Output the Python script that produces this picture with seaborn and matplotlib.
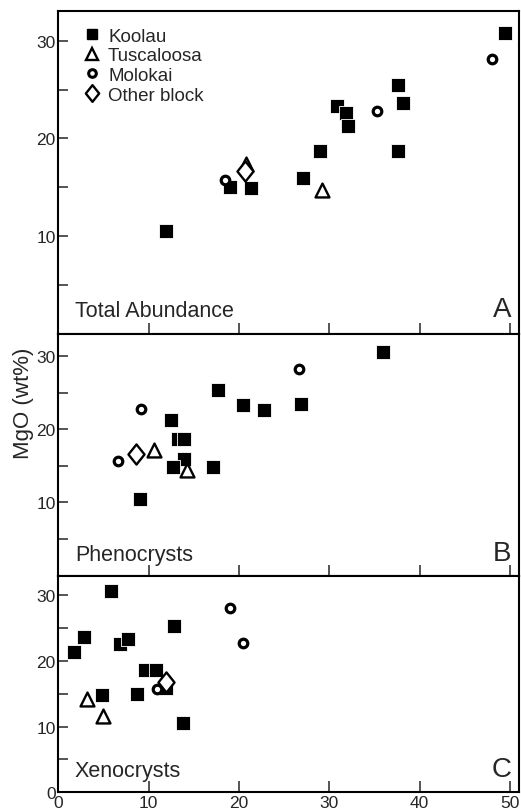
import numpy as np
import pandas as pd
import seaborn as sb
import matplotlib as mpl
import matplotlib.pyplot as plt
from matplotlib.path import Path
from matplotlib.lines import Line2D

sb.set_style('ticks')
mpl.rcParams['font.family'] = ['Liberation Sans', 'DejaVu Sans']

# --- data: x = abundance, y = MgO (wt%) ---
# panel A: total abundance
koolau_A_x = [49.5, 37.6, 38.2, 30.9, 31.8, 32.1, 29.0, 37.6, 27.1, 19.0, 21.3, 11.9]
koolau_A_y = [30.8, 25.5, 23.6, 23.3, 22.6, 21.3, 18.7, 18.7, 16.0, 15.0, 14.9, 10.5]
tusc_A_x = [29.2, 20.8]
tusc_A_y = [14.7, 17.4]
molo_A_x = [48.0, 35.3, 18.5]
molo_A_y = [28.1, 22.8, 15.7]
other_A_x = [20.7]
other_A_y = [16.7]

# panel B: phenocrysts
koolau_B_x = [35.9, 17.7, 20.5, 22.8, 26.9, 12.5, 13.2, 13.9, 13.9, 12.7, 17.1, 9.0]
koolau_B_y = [30.5, 25.4, 23.3, 22.6, 23.5, 21.2, 18.6, 18.6, 16.0, 14.8, 14.8, 10.5]
tusc_B_x = [10.6, 14.3]
tusc_B_y = [17.2, 14.4]
molo_B_x = [26.6, 9.2, 6.6]
molo_B_y = [28.2, 22.8, 15.7]
other_B_x = [8.6]
other_B_y = [16.6]

# panel C: xenocrysts
koolau_C_x = [5.8, 2.8, 1.7, 6.8, 7.7, 12.8, 9.6, 10.8, 4.8, 8.7, 13.8, 11.9]
koolau_C_y = [30.6, 23.7, 21.3, 22.6, 23.3, 25.4, 18.7, 18.7, 14.8, 15.0, 10.5, 15.9]
tusc_C_x = [3.2, 4.9]
tusc_C_y = [14.2, 11.7]
molo_C_x = [19.0, 20.5, 10.9]
molo_C_y = [28.1, 22.8, 15.7]
other_C_x = [11.9]
other_C_y = [16.8]

groups = ['Koolau', 'Tuscaloosa', 'Molokai', 'Other block']
panels = ['A', 'B', 'C']
panel_text = {'A': 'Total Abundance', 'B': 'Phenocrysts', 'C': 'Xenocrysts'}

data = {
    'A': [(koolau_A_x, koolau_A_y), (tusc_A_x, tusc_A_y), (molo_A_x, molo_A_y), (other_A_x, other_A_y)],
    'B': [(koolau_B_x, koolau_B_y), (tusc_B_x, tusc_B_y), (molo_B_x, molo_B_y), (other_B_x, other_B_y)],
    'C': [(koolau_C_x, koolau_C_y), (tusc_C_x, tusc_C_y), (molo_C_x, molo_C_y), (other_C_x, other_C_y)],
}

rows = []
for p in panels:
    for g, (xs, ys) in zip(groups, data[p]):
        for x, y in zip(xs, ys):
            rows.append((p, g, x, y))
Df = pd.DataFrame(rows, columns=['PANEL', 'GROUP', 'ABUND', 'MGO'])

# tall diamond marker
diamond = Path([(0, 1), (0.8, 0), (0, -1), (-0.8, 0), (0, 1)],
               [Path.MOVETO, Path.LINETO, Path.LINETO, Path.LINETO, Path.CLOSEPOLY])

style = {
    'Koolau':      dict(marker='s', s=90, color='black', edgecolor='white', linewidth=0.6),
    'Tuscaloosa':  dict(marker='^', s=100, color='white', edgecolor='black', linewidth=1.7),
    'Molokai':     dict(marker='o', s=38, color='white', edgecolor='black', linewidth=2.3),
    'Other block': dict(marker=diamond, s=210, color='white', edgecolor='black', linewidth=1.7),
}

W, H = 521, 812
left, right = 58.3, 519
edges = {'A': (12.3, 335), 'B': (335, 576.7), 'C': (576.7, 793.3)}
text_y = {'A': 0.055, 'B': 0.066, 'C': 0.077}

fig = plt.figure(figsize=(W / 100, H / 100), dpi=100)

for p in panels:
    top, bot = edges[p]
    ax = fig.add_axes([left / W, 1 - bot / H, (right - left) / W, (bot - top) / H])
    sub = Df[Df['PANEL'] == p]
    for g in groups:
        sb.scatterplot(x='ABUND', y='MGO', data=sub[sub['GROUP'] == g], ax=ax,
                       zorder=3, legend=False, **style[g])

    ax.set_xlim(0, 51)
    ax.set_ylim(0, 33)
    ax.set_xlabel('')
    ax.set_ylabel('')

    if p == 'C':
        ax.set_xticks([0, 10, 20, 30, 40, 50])
        ax.set_yticks([0, 10, 20, 30])
    else:
        ax.set_xticks([10, 20, 30, 40, 50])
        ax.set_xticklabels([])
        ax.set_yticks([10, 20, 30])
    ax.set_yticks([5, 15, 25], minor=True)

    ax.tick_params(axis='x', which='major', direction='in', length=8, width=1.1,
                   labelsize=12.5, pad=2)
    ax.tick_params(axis='y', which='both', direction='in', length=7, width=1.1,
                   labelsize=12.5, pad=2)
    for sp in ax.spines.values():
        sp.set_linewidth(1.5)
        sp.set_color('black')

    ax.text(0.036, text_y[p], panel_text[p], transform=ax.transAxes,
            ha='left', va='baseline', fontsize=15.5)
    ax.text(0.983, text_y[p], p, transform=ax.transAxes,
            ha='right', va='baseline', fontsize=20)

    if p == 'A':
        handles = [
            Line2D([], [], ls='none', marker='s', ms=6.5, mfc='black', mec='black', label='Koolau'),
            Line2D([], [], ls='none', marker='^', ms=9, mfc='white', mec='black', mew=1.7, label='Tuscaloosa'),
            Line2D([], [], ls='none', marker='o', ms=5.5, mfc='white', mec='black', mew=2.2, label='Molokai'),
            Line2D([], [], ls='none', marker=diamond, ms=12, mfc='white', mec='black', mew=1.7, label='Other block'),
        ]
        ax.legend(handles=handles, loc='upper left', bbox_to_anchor=(0.053, 0.95),
                  frameon=False, fontsize=13.5, handlelength=1.0, handletextpad=0.35,
                  labelspacing=0.14, borderpad=0, borderaxespad=0)

fig.text(23 / W, 1 - 403 / H, 'MgO (wt%)', rotation=90, ha='center', va='center', fontsize=16)

fig.savefig('out.png', dpi=100)
